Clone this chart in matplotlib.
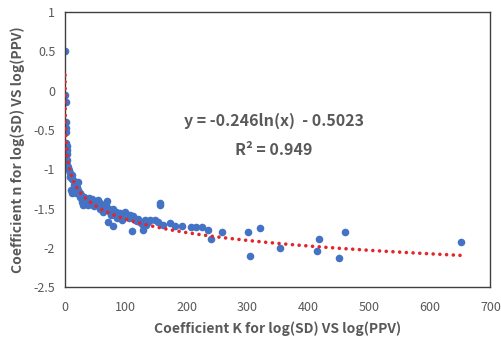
import numpy as np
import matplotlib
matplotlib.use('Agg')
import matplotlib.pyplot as plt

plt.rcParams['font.family'] = ['Noto Sans CJK KR', 'DejaVu Sans']
plt.rcParams['axes.unicode_minus'] = False

# coefficient K (x) and coefficient n (y)
k_vals = [0.5, 0.8, 1, 1.2, 1.5, 1.5, 2, 2.5, 3, 3, 3.5, 2, 4, 5, 6, 8, 9, 11, 12, 13,
          10, 12, 16, 18, 21, 20, 25, 24, 27, 27, 30, 30, 33, 36, 36, 38, 40, 42, 44, 46,
          50, 54, 57, 58, 60, 62, 66, 69, 71, 72, 74, 76, 79, 79, 82, 85, 88, 90, 93, 96,
          99, 101, 105, 107, 110, 112, 115, 118, 123, 126, 129, 131, 134, 137, 140, 148,
          153, 156, 156, 161, 173, 181, 192, 208, 216, 225, 236, 241, 259, 301, 304, 321,
          354, 414, 418, 450, 460, 652,
          14, 17, 22, 28, 32, 35, 39, 45, 48, 52, 64, 68, 84, 97, 120, 133]
n_vals = [0.5, -0.05, -0.15, -0.4, -0.47, -0.52, -0.66, -0.71, -0.76, -0.8, -0.88, -0.92,
          -0.95, -0.97, -1.01, -1.05, -1.1, -1.07, -1.12, -1.14, -1.26, -1.3, -1.28, -1.3,
          -1.16, -1.22, -1.3, -1.35, -1.33, -1.37, -1.4, -1.46, -1.42, -1.39, -1.41, -1.46,
          -1.36, -1.44, -1.41, -1.46, -1.44, -1.39, -1.43, -1.5, -1.48, -1.55, -1.52, -1.41,
          -1.67, -1.5, -1.54, -1.58, -1.5, -1.72, -1.58, -1.62, -1.56, -1.56, -1.65, -1.6,
          -1.54, -1.57, -1.62, -1.58, -1.79, -1.6, -1.65, -1.66, -1.67, -1.7, -1.77, -1.65,
          -1.68, -1.67, -1.65, -1.65, -1.67, -1.43, -1.45, -1.71, -1.69, -1.72, -1.72, -1.74,
          -1.74, -1.74, -1.77, -1.89, -1.8, -1.8, -2.1, -1.75, -2.0, -2.04, -1.89, -2.13,
          -1.8, -1.93,
          -1.2, -1.25, -1.27, -1.42, -1.35, -1.44, -1.4, -1.38, -1.47, -1.42, -1.5, -1.46,
          -1.55, -1.59, -1.63, -1.71]

# logarithmic trendline shown on the chart
fit_a = -0.246
fit_b = -0.5023
fit_r2 = 0.949
fit_x_start = 0.058
fit_x_end = 650

gray = '#595959'

fig = plt.figure(figsize=(5.02, 3.37), dpi=100)
ax = fig.add_axes([0.1295, 0.148, 0.8475, 0.816])

ax.scatter(k_vals, n_vals, s=30, color='#4472C4', zorder=2, linewidths=0)

fx = np.geomspace(fit_x_start, fit_x_end, 3000)
ax.plot(fx, fit_a * np.log(fx) + fit_b, color='#E3262A', linewidth=2.6,
        linestyle=(0, (0.01, 1.85)), dash_capstyle='round', zorder=3)

ax.set_xlim(0, 700)
ax.set_ylim(-2.5, 1)
ax.set_xticks(np.arange(0, 701, 100))
ax.set_yticks(np.arange(-2.5, 1.01, 0.5))
ax.set_yticklabels(['%g' % v for v in np.arange(-2.5, 1.01, 0.5)])
ax.tick_params(length=0, labelsize=9, labelcolor=gray)
ax.tick_params(axis='x', pad=10)
ax.tick_params(axis='y', pad=7)

for s in ax.spines.values():
    s.set_color('#404040')
    s.set_linewidth(1.0)

ax.set_xlabel('Coefficient K for log(SD) VS log(PPV)', fontsize=10, fontweight='bold',
              color=gray, labelpad=5)
ax.set_ylabel('Coefficient n for log(SD) VS log(PPV)', fontsize=10, fontweight='bold',
              color=gray, labelpad=6)

ax.text(0.492, 0.604, 'y = -0.246ln(x)  - 0.5023', transform=ax.transAxes, ha='center',
        va='center', fontsize=11.5, fontweight='bold', color=gray)
ax.text(0.49, 0.497, 'R² = %g' % fit_r2, transform=ax.transAxes, ha='center',
        va='center', fontsize=11.5, fontweight='bold', color=gray)

fig.savefig('out.png', dpi=100)
